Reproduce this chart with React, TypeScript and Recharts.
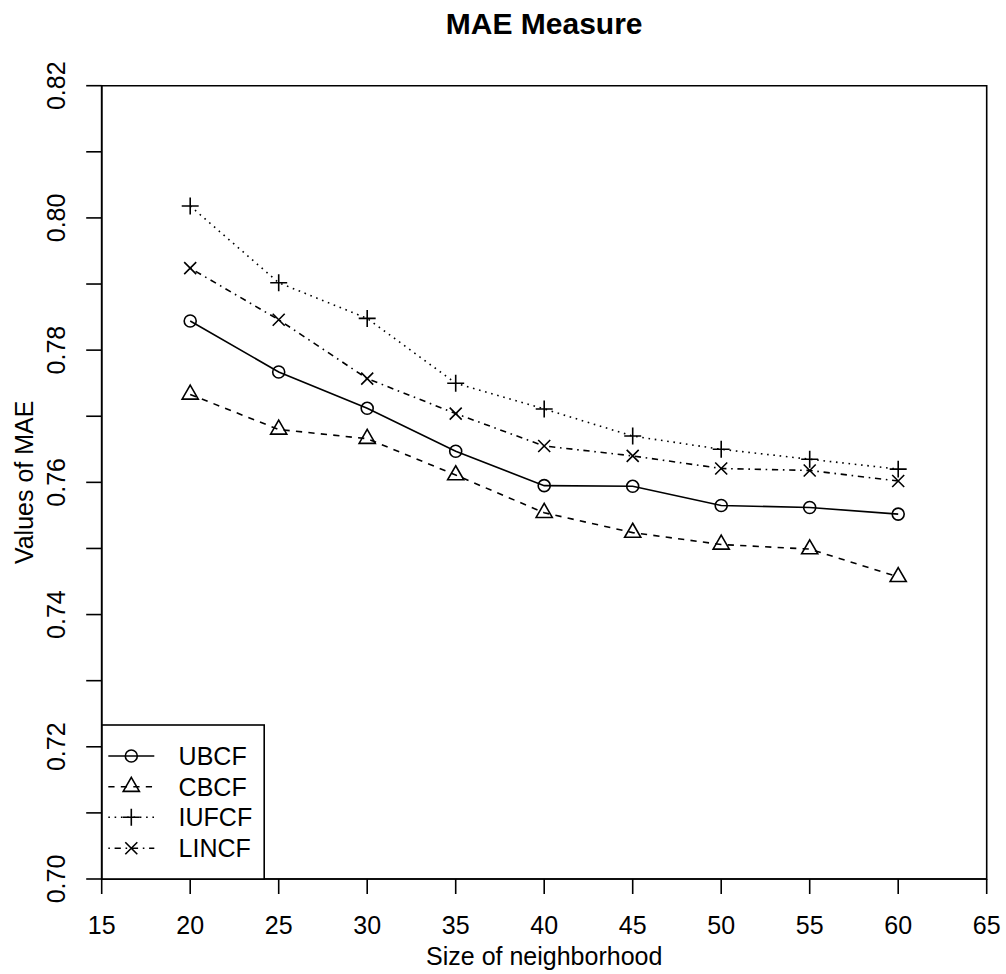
import { Customized, Legend, Line, LineChart, ReferenceArea, XAxis, YAxis } from "recharts";

const W = 1006;
const H = 974;
const FONT = "'Liberation Sans', Arial, Helvetica, sans-serif";
const LW = 1.6;

// neighborhood sizes and MAE per method
const sizes = [20, 25, 30, 35, 40, 45, 50, 55, 60];
const ubcf = [0.7844, 0.7767, 0.7712, 0.7647, 0.7595, 0.7594, 0.7565, 0.7562, 0.7552];
const cbcf = [0.7733, 0.768, 0.7666, 0.7611, 0.7554, 0.7524, 0.7506, 0.7499, 0.7457];
const iufcf = [0.8018, 0.7902, 0.7848, 0.775, 0.7711, 0.767, 0.765, 0.7635, 0.762];
const lincf = [0.7924, 0.7846, 0.7757, 0.7704, 0.7655, 0.764, 0.7621, 0.7618, 0.7602];

const xTicks = [15, 20, 25, 30, 35, 40, 45, 50, 55, 60, 65];
const yTicks = [0.7, 0.71, 0.72, 0.73, 0.74, 0.75, 0.76, 0.77, 0.78, 0.79, 0.8, 0.81, 0.82];

type Kind = "circle" | "triangle" | "plus" | "cross";

const series: { key: string; name: string; kind: Kind; dash?: string }[] = [
  { key: "ubcf", name: "UBCF", kind: "circle" },
  { key: "cbcf", name: "CBCF", kind: "triangle", dash: "6.25 6.25" },
  { key: "iufcf", name: "IUFCF", kind: "plus", dash: "1.6 4.7" },
  { key: "lincf", name: "LINCF", kind: "cross", dash: "1.6 4.7 6.25 4.7" },
];

const rows = sizes.map((s, i) => ({
  size: s,
  ubcf: ubcf[i],
  cbcf: cbcf[i],
  iufcf: iufcf[i],
  lincf: lincf[i],
}));

// R-style plotting symbols (pch 1..4)
function Marker({ kind, cx, cy }: { kind: Kind; cx: number; cy: number }) {
  const r = 6;
  const p = { fill: "none", stroke: "#000", strokeWidth: LW };
  if (kind === "circle") return <circle cx={cx} cy={cy} r={r} {...p} />;
  if (kind === "triangle") {
    const up = 1.555 * r;
    const hw = 1.347 * r;
    const dn = 0.778 * r;
    return <polygon points={`${cx},${cy - up} ${cx + hw},${cy + dn} ${cx - hw},${cy + dn}`} {...p} />;
  }
  if (kind === "plus") {
    const a = 1.414 * r;
    return <path d={`M${cx - a},${cy}H${cx + a}M${cx},${cy - a}V${cy + a}`} {...p} />;
  }
  return <path d={`M${cx - r},${cy - r}L${cx + r},${cy + r}M${cx - r},${cy + r}L${cx + r},${cy - r}`} {...p} />;
}

function LegendBox() {
  const w = 163;
  const h = 154;
  const rowY = [31, 61.7, 92.3, 123.3];
  return (
    <svg width={w} height={h} style={{ display: "block", overflow: "visible" }}>
      <rect x={0} y={0} width={w - 0.8} height={h} fill="#fff" stroke="#000" strokeWidth={LW} />
      {series.map((s, i) => (
        <g key={s.key}>
          <line x1={6.3} x2={52.3} y1={rowY[i]} y2={rowY[i]} stroke="#000" strokeWidth={LW} strokeDasharray={s.dash} />
          <Marker kind={s.kind} cx={29.3} cy={rowY[i]} />
          <text x={76.6} y={rowY[i] + 9} fontFamily={FONT} fontSize={25} fill="#000">
            {s.name}
          </text>
        </g>
      ))}
    </svg>
  );
}

function XTick({ x, y, payload }: any) {
  return (
    <text x={x} y={y + 40} textAnchor="middle" fontFamily={FONT} fontSize={25} fill="#000">
      {payload.value}
    </text>
  );
}

function YTick({ x, y, payload }: any) {
  const v = Math.round(payload.value * 100);
  if (v % 2 !== 0) return <g />;
  const bx = x - 21;
  return (
    <text
      x={bx}
      y={y}
      transform={`rotate(-90, ${bx}, ${y})`}
      textAnchor="middle"
      fontFamily={FONT}
      fontSize={25}
      fill="#000"
    >
      {payload.value.toFixed(2)}
    </text>
  );
}

function Title() {
  return (
    <text x={544.2} y={33.5} textAnchor="middle" fontFamily={FONT} fontSize={30} fontWeight="bold" fill="#000">
      MAE Measure
    </text>
  );
}

export default function App() {
  return (
    <div style={{ position: "absolute", left: 0, top: 0, width: W, height: H, background: "#fff" }}>
      <LineChart width={W} height={H} data={rows} margin={{ top: 85.7, right: 19.3, bottom: 0, left: 0 }}>
        <XAxis
          dataKey="size"
          type="number"
          domain={[15, 65]}
          ticks={xTicks}
          interval={0}
          height={95}
          tickSize={15}
          tickMargin={0}
          axisLine={{ stroke: "#000", strokeWidth: LW }}
          tickLine={{ stroke: "#000", strokeWidth: LW }}
          tick={<XTick />}
          label={{
            content: (p: any) => (
              <text
                x={p.viewBox.x + p.viewBox.width / 2}
                y={965}
                textAnchor="middle"
                fontFamily={FONT}
                fontSize={25}
                fill="#000"
              >
                Size of neighborhood
              </text>
            ),
          }}
        />
        <YAxis
          type="number"
          domain={[0.7, 0.82]}
          ticks={yTicks}
          interval={0}
          width={101.7}
          tickSize={15.5}
          tickMargin={0}
          allowDataOverflow
          axisLine={{ stroke: "#000", strokeWidth: LW }}
          tickLine={{ stroke: "#000", strokeWidth: LW }}
          tick={<YTick />}
          label={{
            content: (p: any) => {
              const cy = p.viewBox.y + p.viewBox.height / 2;
              return (
                <text
                  x={33}
                  y={cy}
                  transform={`rotate(-90, 33, ${cy})`}
                  textAnchor="middle"
                  fontFamily={FONT}
                  fontSize={25}
                  fill="#000"
                >
                  Values of MAE
                </text>
              );
            },
          }}
        />
        <ReferenceArea x1={15} x2={65} y1={0.7} y2={0.82} fill="none" stroke="#000" strokeWidth={LW} ifOverflow="visible" />
        {series.map((s) => (
          <Line
            key={s.key}
            dataKey={s.key}
            name={s.name}
            type="linear"
            stroke="#000"
            strokeWidth={LW}
            strokeDasharray={s.dash}
            isAnimationActive={false}
            dot={(p: any) => <Marker key={`${s.key}-${p.index}`} kind={s.kind} cx={p.cx} cy={p.cy} />}
            activeDot={false}
          />
        ))}
        <Legend
          layout="horizontal"
          verticalAlign="middle"
          align="center"
          wrapperStyle={{ position: "absolute", left: 101.7, top: 725, width: 163, height: 154, margin: 0, padding: 0 }}
          content={() => <LegendBox />}
        />
        <Customized component={<Title />} />
      </LineChart>
    </div>
  );
}
